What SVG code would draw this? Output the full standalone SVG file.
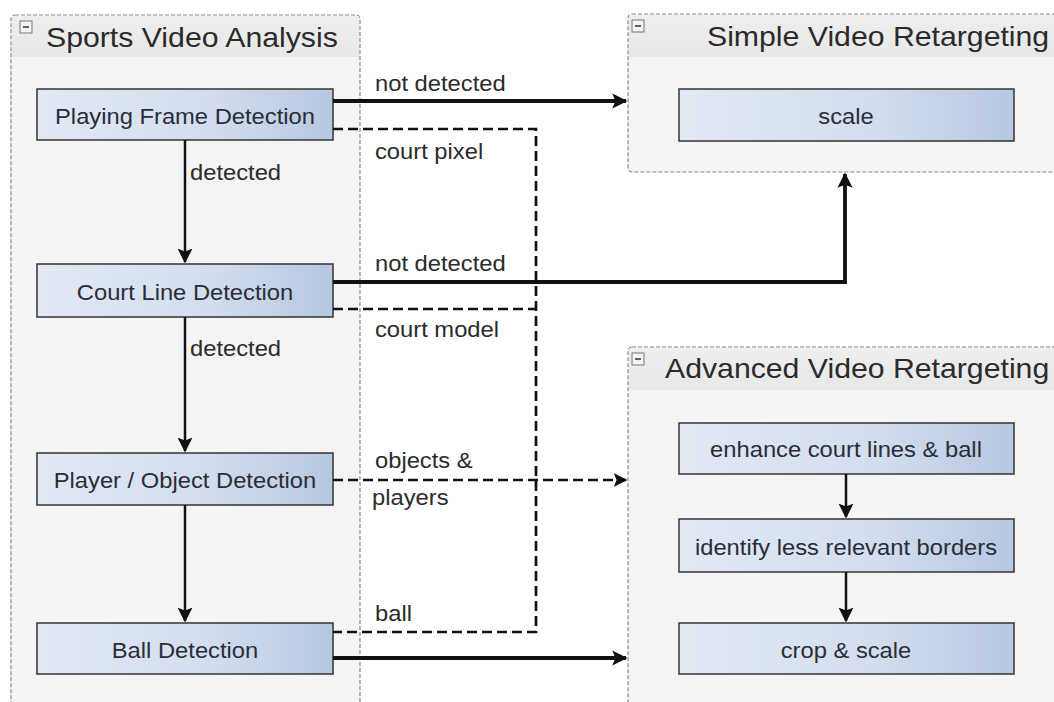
<svg xmlns="http://www.w3.org/2000/svg" width="1054" height="702" viewBox="0 0 1054 702">
  <defs>
    <linearGradient id="boxFill" x1="0" y1="0" x2="1" y2="0">
      <stop offset="0" stop-color="#e2e9f5"/>
      <stop offset="0.6" stop-color="#d2ddee"/>
      <stop offset="1" stop-color="#b6c7e1"/>
    </linearGradient>
    <linearGradient id="headFill" x1="0" y1="0" x2="0" y2="1">
      <stop offset="0" stop-color="#eeeeee"/>
      <stop offset="1" stop-color="#e8e8e8"/>
    </linearGradient>
    <marker id="arrow" viewBox="0 0 10 10" refX="9" refY="5" markerWidth="4" markerHeight="4.4" orient="auto" markerUnits="strokeWidth">
      <path d="M0,0 L10,5 L0,10 L2,5 Z" fill="#111"/>
    </marker>
    <marker id="arrowThin" viewBox="0 0 10 10" refX="9" refY="5" markerWidth="6" markerHeight="6" orient="auto" markerUnits="strokeWidth">
      <path d="M0,0 L10,5 L0,10 L2,5 Z" fill="#111"/>
    </marker>
    <marker id="arrowDash" viewBox="0 0 10 10" refX="9" refY="5" markerWidth="5" markerHeight="5" orient="auto" markerUnits="strokeWidth">
      <path d="M0,0 L10,5 L0,10 L2,5 Z" fill="#111"/>
    </marker>
  </defs>
  <style>
    .container { fill: #f4f4f4; stroke: #8a8a8a; stroke-width: 1.2; stroke-dasharray: 4 2; }
    .header { fill: url(#headFill); }
    .minus { fill: #f4f4f4; stroke: #777; stroke-width: 1; }
    .minusBar { stroke: #333; stroke-width: 1.5; }
    text { transform-box: fill-box; }
    .title { font-family: "Liberation Sans", Arial, sans-serif; font-size: 28px; fill: #2b2b2b;
             transform-origin: left center; transform: scaleX(1.08); }
    .box { fill: url(#boxFill); stroke: #333; stroke-width: 1.5; }
    .boxText { font-family: "Liberation Sans", Arial, sans-serif; font-size: 22px; fill: #2a2d38; text-anchor: middle;
               transform-origin: center; transform: scaleX(1.08); }
    .label { font-family: "Liberation Sans", Arial, sans-serif; font-size: 22px; fill: #2b2b2b;
             transform-origin: left center; transform: scaleX(1.08); }
    .thick { fill: none; stroke: #111; stroke-width: 3.8; }
    .flow { fill: none; stroke: #111; stroke-width: 2.5; }
    .dashed { fill: none; stroke: #111; stroke-width: 2.7; stroke-dasharray: 10 5; }
  </style>
  <rect width="1054" height="702" fill="#ffffff"/>

  <!-- Sports Video Analysis container -->
  <g id="sports-video-analysis">
    <rect class="container" x="11" y="15" width="349" height="700" rx="4"/>
    <rect class="header" x="12" y="16" width="347" height="41"/>
    <rect class="minus" x="20" y="21" width="12" height="12"/>
    <line class="minusBar" x1="23" y1="27" x2="29" y2="27"/>
    <text class="title" x="46" y="47">Sports Video Analysis</text>
  </g>

  <!-- Simple Video Retargeting container -->
  <g id="simple-video-retargeting">
    <rect class="container" x="628" y="14" width="440" height="158" rx="4"/>
    <rect class="header" x="629" y="15" width="425" height="42"/>
    <rect class="minus" x="632" y="20" width="12" height="12"/>
    <line class="minusBar" x1="635" y1="26" x2="641" y2="26"/>
    <text class="title" x="707" y="46">Simple Video Retargeting</text>
  </g>

  <!-- Advanced Video Retargeting container -->
  <g id="advanced-video-retargeting">
    <rect class="container" x="628" y="347" width="440" height="370" rx="4"/>
    <rect class="header" x="629" y="348" width="425" height="42"/>
    <rect class="minus" x="632" y="353" width="12" height="12"/>
    <line class="minusBar" x1="635" y1="359" x2="641" y2="359"/>
    <text class="title" x="665" y="378">Advanced Video Retargeting</text>
  </g>

  <!-- Process nodes -->
  <g id="playing-frame-detection">
    <rect class="box" x="37" y="89" width="296" height="51"/>
    <text class="boxText" x="185" y="124">Playing Frame Detection</text>
  </g>
  <g id="court-line-detection">
    <rect class="box" x="37" y="264" width="296" height="53"/>
    <text class="boxText" x="185" y="300">Court Line Detection</text>
  </g>
  <g id="player-object-detection">
    <rect class="box" x="37" y="453" width="296" height="52"/>
    <text class="boxText" x="185" y="488">Player / Object Detection</text>
  </g>
  <g id="ball-detection">
    <rect class="box" x="37" y="623" width="296" height="51"/>
    <text class="boxText" x="185" y="658">Ball Detection</text>
  </g>
  <g id="scale">
    <rect class="box" x="679" y="89" width="335" height="52"/>
    <text class="boxText" x="846" y="124">scale</text>
  </g>
  <g id="enhance-court-lines-ball">
    <rect class="box" x="679" y="423" width="335" height="51"/>
    <text class="boxText" x="846" y="457">enhance court lines &amp; ball</text>
  </g>
  <g id="identify-less-relevant-borders">
    <rect class="box" x="679" y="519" width="335" height="53"/>
    <text class="boxText" x="846" y="555">identify less relevant borders</text>
  </g>
  <g id="crop-scale">
    <rect class="box" x="679" y="623" width="335" height="51"/>
    <text class="boxText" x="846" y="658">crop &amp; scale</text>
  </g>

  <!-- Connectors -->
  <g id="connectors">
    <!-- data shared with the ball detection stage -->
    <path class="dashed" d="M333,129 H536 V632 H333"/>
    <path class="dashed" d="M333,309 H536"/>
    <path class="dashed" d="M333,480 H626" marker-end="url(#arrowDash)"/>

    <!-- sports video analysis chain -->
    <path class="flow" d="M185,140 V262" marker-end="url(#arrowThin)"/>
    <path class="flow" d="M185,317 V451" marker-end="url(#arrowThin)"/>
    <path class="flow" d="M185,505 V621" marker-end="url(#arrowThin)"/>

    <!-- retargeting routes -->
    <path class="thick" d="M333,101 H626" marker-end="url(#arrow)"/>
    <path class="thick" d="M333,282 H845 V174" marker-end="url(#arrow)"/>
    <path class="thick" d="M333,658 H626" marker-end="url(#arrow)"/>

    <!-- advanced retargeting chain -->
    <path class="flow" d="M846,474 V517" marker-end="url(#arrowThin)"/>
    <path class="flow" d="M846,572 V621" marker-end="url(#arrowThin)"/>

    <text class="label" x="375" y="91">not detected</text>
    <text class="label" x="190" y="180">detected</text>
    <text class="label" x="375" y="159">court pixel</text>
    <text class="label" x="375" y="271">not detected</text>
    <text class="label" x="375" y="337">court model</text>
    <text class="label" x="190" y="356">detected</text>
    <text class="label" x="375" y="468">objects &amp;</text>
    <text class="label" x="372" y="505">players</text>
    <text class="label" x="375" y="621">ball</text>
  </g>
</svg>
